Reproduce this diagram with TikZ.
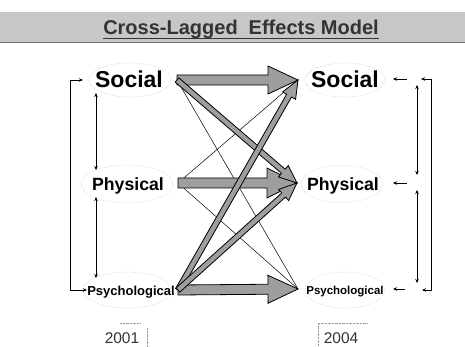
\documentclass[tikz,border=0pt]{standalone}
\usepackage{fontspec}
\setmainfont{Liberation Sans}
\usetikzlibrary{calc,arrows.meta,shapes.geometric}

\tikzset{
  big label/.style={font=\bfseries\fontsize{23}{23}\selectfont, inner sep=0pt, anchor=base},
  mid label/.style={font=\bfseries\fontsize{17.7}{18}\selectfont, inner sep=0pt, anchor=base},
  psy left/.style={font=\bfseries\fontsize{13}{13}\selectfont, inner sep=0pt, anchor=base},
  psy right/.style={font=\bfseries\fontsize{11.5}{12}\selectfont, inner sep=0pt, anchor=base},
  year/.style={font=\fontsize{15.5}{16}\selectfont, text=black!80, inner sep=0pt, anchor=base},
  heading/.style={font=\bfseries\fontsize{20}{20}\selectfont, text=black!80, inner sep=0pt, anchor=base},
  ring/.style={ellipse, draw=black!30, densely dotted, line width=0.4pt, inner sep=0pt},
  fatbody/.style={fill=black!38, draw=black, line width=0.8pt, line join=miter},
  thin link/.style={draw=black, line width=0.5pt},
  faint/.style={draw=black!40, densely dotted, line width=0.4pt},
  tip/.style={Stealth[length=4pt,width=3.5pt]},
  tick/.style={-{Stealth[length=4pt,width=3.5pt]}, line width=0.6pt},
  twoway/.style={{Stealth[length=4pt,width=3.5pt]}-{Stealth[length=4pt,width=3.5pt]}, line width=0.6pt},
}

% filled block arrow: tail, tip, shaft half width, head half width, head length
\newcommand{\fatarrow}[5]{%
  \coordinate (fatbase) at ($(#2)!#5!(#1)$);
  \filldraw[fatbody] ($(#1)!#3!90:(#2)$) -- ($(fatbase)!#3!90:(#2)$)
    -- ($(fatbase)!#4!90:(#2)$) -- (#2) -- ($(fatbase)!#4!-90:(#2)$)
    -- ($(fatbase)!#3!-90:(#2)$) -- ($(#1)!#3!-90:(#2)$) -- cycle;
}

\begin{document}
\begin{tikzpicture}[x=1pt,y=-1pt]
\useasboundingbox (0,0) rectangle (465,347);

% title band
\fill[black!22] (0,12) rectangle (465,42);
\draw[black!55, line width=0.6pt] (0,42.5) -- (465,42.5);
\node[heading] (ttl) at (241,35) {Cross-Lagged\hspace{0.55em}Effects Model};
\draw[black!80, line width=0.5pt] ([yshift=-3pt]ttl.base west) -- ([yshift=-3pt]ttl.base east);

% dotted outlines around the variables
\node[ring, minimum width=82pt, minimum height=34pt] (sLring) at (130,80) {};
\node[ring, minimum width=80pt, minimum height=34pt] (sRring) at (345,80) {};
\node[ring, minimum width=92pt, minimum height=38pt] (pLring) at (127,184) {};
\node[ring, minimum width=82pt, minimum height=37pt] (pRring) at (342,184) {};
\node[ring, minimum width=88pt, minimum height=36pt] (yLring) at (127,290) {};
\node[ring, minimum width=80pt, minimum height=36pt] (yRring) at (345,290) {};

% variables, 2001 and 2004
\node[big label] (sL) at (129,88) {Social};
\node[big label] (sR) at (345,88) {Social};
\node[mid label] (pL) at (128,191) {Physical};
\node[mid label] (pR) at (343,191) {Physical};
\node[psy left] (yL) at (131,295) {Psychological};
\node[psy right] (yR) at (345,294) {Psychological};

% ports of the paths
\coordinate (sLo) at (177,80);
\coordinate (pLo) at (178,183);
\coordinate (yLo) at (178,290);
\coordinate (sRi) at (298,80);
\coordinate (pRi) at (297,183);
\coordinate (yRi) at (298,289);

% weak cross-lagged paths
\draw[thin link] (sLo) -- (yRi);
\draw[thin link] (pLo) -- (sRi);
\draw[thin link] (pLo) -- (yRi);

% stability paths
\fatarrow{sLo}{sRi}{5pt}{14pt}{30pt}
\fatarrow{pLo}{pRi}{5pt}{15pt}{30pt}
\fatarrow{yLo}{yRi}{5pt}{14pt}{30pt}

% strong cross-lagged paths
\fatarrow{sLo}{pRi}{2.8pt}{7.5pt}{18pt}
\fatarrow{yLo}{sRi}{2.8pt}{7.5pt}{18pt}
\fatarrow{yLo}{pRi}{2.8pt}{7.5pt}{18pt}

% correlations at 2001
\coordinate (lA) at (83,80);
\coordinate (lB) at (87,290);
\draw[twoway] (lA) -- (70,80) -- (70,290) -- (lB);
\coordinate (lC) at (96,93);
\coordinate (lD) at (96,170);
\coordinate (lE) at (96,197);
\coordinate (lF) at (96,278);
\draw[twoway] (lC) -- (lD);
\draw[twoway] (lE) -- (lF);

% residual correlations at 2004
\coordinate (rA) at (421,79);
\coordinate (rB) at (422,290);
\draw[twoway] (rA) -- (431,79) -- (431,290) -- (rB);
\coordinate (rC) at (417,85);
\coordinate (rD) at (417,175);
\coordinate (rE) at (417,190);
\coordinate (rF) at (417,283);
\draw[twoway] (rC) -- (rD);
\draw[twoway] (rE) -- (rF);

% residual terms
\coordinate (eS) at (407,79);
\coordinate (eP) at (407,183);
\coordinate (eY) at (405,289);
\coordinate (eSt) at (393,79);
\coordinate (ePt) at (393,183);
\coordinate (eYt) at (393,289);
\draw[tick] (eS) -- (eSt);
\draw[tick] (eP) -- (ePt);
\draw[tick] (eY) -- (eYt);

% waves
\node[year] (w1) at (122,343) {2001};
\node[year] (w2) at (341,343) {2004};
\draw[faint] (147,328) -- (147,347);
\draw[faint] (120,323) -- (140,323);
\draw[faint] (318,347) -- (318,323) -- (367,323);
\end{tikzpicture}
\end{document}
